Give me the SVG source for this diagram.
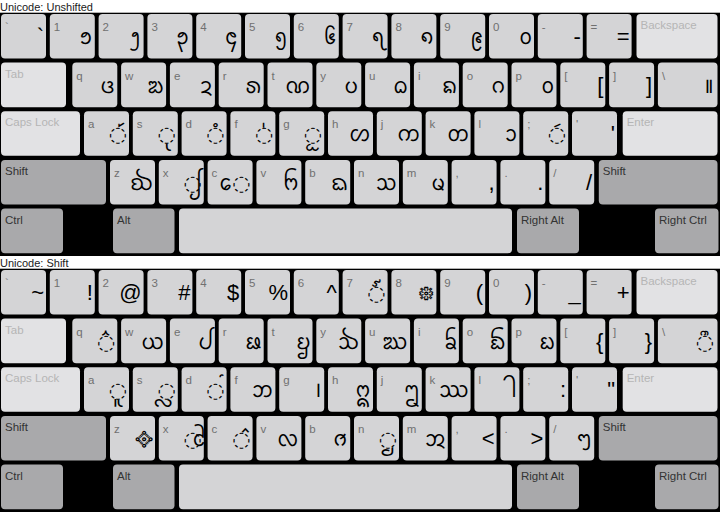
<svg xmlns="http://www.w3.org/2000/svg" width="720" height="512" viewBox="0 0 720 512">
<style>
.bg{fill:#000}
.k{fill:#d4d4d6;rx:4px}
.s{fill:#e2e2e4;rx:4px}
.m{fill:#a9a9ab;rx:4px}
text{font-family:"Liberation Sans",Arial,sans-serif}
.h{font-size:11px;fill:#1a1a1a}
.l{font-size:11.5px;fill:#707070}
.ls{font-size:11.5px;fill:#b5b5b5}
.lm{font-size:11.5px;fill:#333}
.g{font-size:22px;fill:#000;text-anchor:end}
.dc{font-size:21px;fill:#000;text-anchor:end;font-family:"DejaVu Sans",sans-serif}
.mk{font-size:22px;fill:#000;text-anchor:middle;font-family:"Noto Sans Tai Tham","Liberation Sans",sans-serif}
</style>
<g id="unshifted">
<text class="h" x="0" y="10.5">Unicode: Unshifted</text>
<rect class="bg" x="0" y="12.7" width="720" height="243.3"/>
<g id="u-grave"><rect class="k" x="1" y="14" width="45" height="44.6"/><text class="l" x="5" y="31">`</text><text class="g" x="44" y="44">`</text></g>
<g id="u-1"><rect class="k" x="49.8" y="14" width="45" height="44.6"/><text class="l" x="53.8" y="31">1</text><text class="g" x="92.8" y="44">&#x1A81;</text></g>
<g id="u-2"><rect class="k" x="98.6" y="14" width="45" height="44.6"/><text class="l" x="102.6" y="31">2</text><text class="g" x="141.6" y="44">&#x1A82;</text></g>
<g id="u-3"><rect class="k" x="147.4" y="14" width="45" height="44.6"/><text class="l" x="151.4" y="31">3</text><text class="g" x="190.4" y="44">&#x1A83;</text></g>
<g id="u-4"><rect class="k" x="196.2" y="14" width="45" height="44.6"/><text class="l" x="200.2" y="31">4</text><text class="g" x="239.2" y="44">&#x1A84;</text></g>
<g id="u-5"><rect class="k" x="245" y="14" width="45" height="44.6"/><text class="l" x="249" y="31">5</text><text class="g" x="288" y="44">&#x1A85;</text></g>
<g id="u-6"><rect class="k" x="293.8" y="14" width="45" height="44.6"/><text class="l" x="297.8" y="31">6</text><text class="g" x="336.8" y="44">&#x1A86;</text></g>
<g id="u-7"><rect class="k" x="342.6" y="14" width="45" height="44.6"/><text class="l" x="346.6" y="31">7</text><text class="g" x="385.6" y="44">&#x1A87;</text></g>
<g id="u-8"><rect class="k" x="391.4" y="14" width="45" height="44.6"/><text class="l" x="395.4" y="31">8</text><text class="g" x="434.4" y="44">&#x1A88;</text></g>
<g id="u-9"><rect class="k" x="440.2" y="14" width="45" height="44.6"/><text class="l" x="444.2" y="31">9</text><text class="g" x="483.2" y="44">&#x1A89;</text></g>
<g id="u-0"><rect class="k" x="489" y="14" width="45" height="44.6"/><text class="l" x="493" y="31">0</text><text class="g" x="532" y="44">&#x1A80;</text></g>
<g id="u-minus"><rect class="k" x="537.8" y="14" width="45" height="44.6"/><text class="l" x="541.8" y="31">-</text><text class="g" x="580.8" y="44">-</text></g>
<g id="u-equal"><rect class="k" x="586.6" y="14" width="45" height="44.6"/><text class="l" x="590.6" y="31">=</text><text class="g" x="629.6" y="44">=</text></g>
<g id="u-backspace"><rect class="s" x="636.5" y="14" width="81" height="44.6"/><text class="ls" x="640.5" y="29">Backspace</text></g>
<g id="u-tab"><rect class="s" x="1" y="62.6" width="65" height="44.6"/><text class="ls" x="5" y="77.6">Tab</text></g>
<g id="u-q"><rect class="k" x="72.3" y="62.6" width="45" height="44.6"/><text class="l" x="76.3" y="79.6">q</text><text class="g" x="115.3" y="92.6">&#x1A34;</text></g>
<g id="u-w"><rect class="k" x="121.1" y="62.6" width="45" height="44.6"/><text class="l" x="125.1" y="79.6">w</text><text class="g" x="164.1" y="92.6">&#x1A30;</text></g>
<g id="u-e"><rect class="k" x="169.9" y="62.6" width="45" height="44.6"/><text class="l" x="173.9" y="79.6">e</text><text class="g" x="212.9" y="92.6">&#x1A2F;</text></g>
<g id="u-r"><rect class="k" x="218.7" y="62.6" width="45" height="44.6"/><text class="l" x="222.7" y="79.6">r</text><text class="g" x="261.7" y="92.6">&#x1A41;</text></g>
<g id="u-t"><rect class="k" x="267.5" y="62.6" width="45" height="44.6"/><text class="l" x="271.5" y="79.6">t</text><text class="g" x="310.5" y="92.6">&#x1A31;</text></g>
<g id="u-y"><rect class="k" x="316.3" y="62.6" width="45" height="44.6"/><text class="l" x="320.3" y="79.6">y</text><text class="g" x="359.3" y="92.6">&#x1A37;</text></g>
<g id="u-u"><rect class="k" x="365.1" y="62.6" width="45" height="44.6"/><text class="l" x="369.1" y="79.6">u</text><text class="g" x="408.1" y="92.6">&#x1A35;</text></g>
<g id="u-i"><rect class="k" x="413.9" y="62.6" width="45" height="44.6"/><text class="l" x="417.9" y="79.6">i</text><text class="g" x="456.9" y="92.6">&#x1A26;</text></g>
<g id="u-o"><rect class="k" x="462.7" y="62.6" width="45" height="44.6"/><text class="l" x="466.7" y="79.6">o</text><text class="g" x="505.7" y="92.6">&#x1A23;</text></g>
<g id="u-p"><rect class="k" x="511.5" y="62.6" width="45" height="44.6"/><text class="l" x="515.5" y="79.6">p</text><text class="g" x="554.5" y="92.6">&#x1A45;</text></g>
<g id="u-lbracket"><rect class="k" x="560.3" y="62.6" width="45" height="44.6"/><text class="l" x="564.3" y="79.6">[</text><text class="g" x="603.3" y="92.6">[</text></g>
<g id="u-rbracket"><rect class="k" x="609.1" y="62.6" width="45" height="44.6"/><text class="l" x="613.1" y="79.6">]</text><text class="g" x="652.1" y="92.6">]</text></g>
<g id="u-backslash"><rect class="k" x="657.9" y="62.6" width="59.6" height="44.6"/><text class="l" x="661.9" y="79.6">\</text><text class="g" x="714" y="92.6">&#x1AA9;</text></g>
<g id="u-caps"><rect class="s" x="1" y="111.2" width="79" height="44.6"/><text class="ls" x="5" y="126.2">Caps Lock</text></g>
<g id="u-a"><rect class="k" x="84" y="111.2" width="45" height="44.6"/><text class="l" x="88" y="128.2">a</text><text class="dc" x="127" y="141.2">◌</text><text class="mk" x="120" y="141.2">&#xA0;&#x1A76;</text></g>
<g id="u-s"><rect class="k" x="132.8" y="111.2" width="45" height="44.6"/><text class="l" x="136.8" y="128.2">s</text><text class="dc" x="175.8" y="141.2">◌</text><text class="mk" x="168.8" y="141.2">&#xA0;&#x1A69;</text></g>
<g id="u-d"><rect class="k" x="181.6" y="111.2" width="45" height="44.6"/><text class="l" x="185.6" y="128.2">d</text><text class="dc" x="224.6" y="141.2">◌</text><text class="mk" x="217.6" y="141.2">&#xA0;&#x1A74;</text></g>
<g id="u-f"><rect class="k" x="230.4" y="111.2" width="45" height="44.6"/><text class="l" x="234.4" y="128.2">f</text><text class="dc" x="273.4" y="141.2">◌</text><text class="mk" x="266.4" y="141.2">&#xA0;&#x1A75;</text></g>
<g id="u-g"><rect class="k" x="279.2" y="111.2" width="45" height="44.6"/><text class="l" x="283.2" y="128.2">g</text><text class="dc" x="322.2" y="141.2">◌</text><text class="mk" x="315.2" y="141.2">&#xA0;&#x1A6C;</text></g>
<g id="u-h"><rect class="k" x="328" y="111.2" width="45" height="44.6"/><text class="l" x="332" y="128.2">h</text><text class="g" x="371" y="141.2">&#x1A49;</text></g>
<g id="u-j"><rect class="k" x="376.8" y="111.2" width="45" height="44.6"/><text class="l" x="380.8" y="128.2">j</text><text class="g" x="419.8" y="141.2">&#x1A20;</text></g>
<g id="u-k"><rect class="k" x="425.6" y="111.2" width="45" height="44.6"/><text class="l" x="429.6" y="128.2">k</text><text class="g" x="468.6" y="141.2">&#x1A32;</text></g>
<g id="u-l"><rect class="k" x="474.4" y="111.2" width="45" height="44.6"/><text class="l" x="478.4" y="128.2">l</text><text class="g" x="517.4" y="141.2">&#x1A63;</text></g>
<g id="u-semicolon"><rect class="k" x="523.2" y="111.2" width="45" height="44.6"/><text class="l" x="527.2" y="128.2">;</text><text class="dc" x="566.2" y="141.2">◌</text><text class="mk" x="559.2" y="141.2">&#xA0;&#x1A62;</text></g>
<g id="u-quote"><rect class="k" x="572" y="111.2" width="45" height="44.6"/><text class="l" x="576" y="128.2">'</text><text class="g" x="615" y="141.2">'</text></g>
<g id="u-enter"><rect class="s" x="622.7" y="111.2" width="94.8" height="44.6"/><text class="ls" x="626.7" y="126.2">Enter</text></g>
<g id="u-lshift"><rect class="m" x="1" y="159.9" width="105" height="44.6"/><text class="lm" x="5" y="174.9">Shift</text></g>
<g id="u-z"><rect class="k" x="110" y="159.9" width="45" height="44.6"/><text class="l" x="114" y="176.9">z</text><text class="g" x="153" y="189.9">&#x1A2B;</text></g>
<g id="u-x"><rect class="k" x="158.8" y="159.9" width="45" height="44.6"/><text class="l" x="162.8" y="176.9">x</text><text class="dc" x="201.8" y="189.9">◌</text><text class="mk" x="194.8" y="189.9">&#xA0;&#x1A6D;</text></g>
<g id="u-c"><rect class="k" x="207.6" y="159.9" width="45" height="44.6"/><text class="l" x="211.6" y="176.9">c</text><text class="g" x="232" y="189.9">&#x1A6E;</text><text class="dc" x="250.6" y="189.9">◌</text></g>
<g id="u-v"><rect class="k" x="256.4" y="159.9" width="45" height="44.6"/><text class="l" x="260.4" y="176.9">v</text><text class="g" x="299.4" y="189.9">&#x1A3C;</text></g>
<g id="u-b"><rect class="k" x="305.2" y="159.9" width="45" height="44.6"/><text class="l" x="309.2" y="176.9">b</text><text class="g" x="348.2" y="189.9">&#x1A33;</text></g>
<g id="u-n"><rect class="k" x="354" y="159.9" width="45" height="44.6"/><text class="l" x="358" y="176.9">n</text><text class="g" x="397" y="189.9">&#x1A48;</text></g>
<g id="u-m"><rect class="k" x="402.8" y="159.9" width="45" height="44.6"/><text class="l" x="406.8" y="176.9">m</text><text class="g" x="445.8" y="189.9">&#x1A3E;</text></g>
<g id="u-comma"><rect class="k" x="451.6" y="159.9" width="45" height="44.6"/><text class="l" x="455.6" y="176.9">,</text><text class="g" x="494.6" y="189.9">,</text></g>
<g id="u-period"><rect class="k" x="500.4" y="159.9" width="45" height="44.6"/><text class="l" x="504.4" y="176.9">.</text><text class="g" x="543.4" y="189.9">.</text></g>
<g id="u-slash"><rect class="k" x="549.2" y="159.9" width="45" height="44.6"/><text class="l" x="553.2" y="176.9">/</text><text class="g" x="592.2" y="189.9">/</text></g>
<g id="u-rshift"><rect class="m" x="598.8" y="159.9" width="118.7" height="44.6"/><text class="lm" x="602.8" y="174.9">Shift</text></g>
<g id="u-ctrl"><rect class="m" x="1" y="208.6" width="62" height="44.6"/><text class="lm" x="5" y="223.6">Ctrl</text></g>
<g id="u-alt"><rect class="m" x="113" y="208.6" width="61.5" height="44.6"/><text class="lm" x="117" y="223.6">Alt</text></g>
<g id="u-space"><rect class="k" x="179" y="208.6" width="333" height="44.6"/></g>
<g id="u-ralt"><rect class="m" x="517" y="208.6" width="62" height="44.6"/><text class="lm" x="521" y="223.6">Right Alt</text></g>
<g id="u-rctrl"><rect class="m" x="655" y="208.6" width="63.5" height="44.6"/><text class="lm" x="659" y="223.6">Right Ctrl</text></g>
</g>
<g id="shifted" transform="translate(0,256)">
<text class="h" x="0" y="10.5">Unicode: Shift</text>
<rect class="bg" x="0" y="12.7" width="720" height="243.3"/>
<g id="s-grave"><rect class="k" x="1" y="14" width="45" height="44.6"/><text class="l" x="5" y="31">`</text><text class="g" x="44" y="44">~</text></g>
<g id="s-1"><rect class="k" x="49.8" y="14" width="45" height="44.6"/><text class="l" x="53.8" y="31">1</text><text class="g" x="92.8" y="44">!</text></g>
<g id="s-2"><rect class="k" x="98.6" y="14" width="45" height="44.6"/><text class="l" x="102.6" y="31">2</text><text class="g" x="141.6" y="44">@</text></g>
<g id="s-3"><rect class="k" x="147.4" y="14" width="45" height="44.6"/><text class="l" x="151.4" y="31">3</text><text class="g" x="190.4" y="44">#</text></g>
<g id="s-4"><rect class="k" x="196.2" y="14" width="45" height="44.6"/><text class="l" x="200.2" y="31">4</text><text class="g" x="239.2" y="44">$</text></g>
<g id="s-5"><rect class="k" x="245" y="14" width="45" height="44.6"/><text class="l" x="249" y="31">5</text><text class="g" x="288" y="44">%</text></g>
<g id="s-6"><rect class="k" x="293.8" y="14" width="45" height="44.6"/><text class="l" x="297.8" y="31">6</text><text class="g" x="336.8" y="44">^</text></g>
<g id="s-7"><rect class="k" x="342.6" y="14" width="45" height="44.6"/><text class="l" x="346.6" y="31">7</text><text class="dc" x="385.6" y="44">◌</text><text class="mk" x="378.6" y="44">&#xA0;&#x1A7C;</text></g>
<g id="s-8"><rect class="k" x="391.4" y="14" width="45" height="44.6"/><text class="l" x="395.4" y="31">8</text><text class="g" x="434.4" y="44">&#x1AA5;</text></g>
<g id="s-9"><rect class="k" x="440.2" y="14" width="45" height="44.6"/><text class="l" x="444.2" y="31">9</text><text class="g" x="483.2" y="44">(</text></g>
<g id="s-0"><rect class="k" x="489" y="14" width="45" height="44.6"/><text class="l" x="493" y="31">0</text><text class="g" x="532" y="44">)</text></g>
<g id="s-minus"><rect class="k" x="537.8" y="14" width="45" height="44.6"/><text class="l" x="541.8" y="31">-</text><text class="g" x="580.8" y="44">_</text></g>
<g id="s-equal"><rect class="k" x="586.6" y="14" width="45" height="44.6"/><text class="l" x="590.6" y="31">=</text><text class="g" x="629.6" y="44">+</text></g>
<g id="s-backspace"><rect class="s" x="636.5" y="14" width="81" height="44.6"/><text class="ls" x="640.5" y="29">Backspace</text></g>
<g id="s-tab"><rect class="s" x="1" y="62.6" width="65" height="44.6"/><text class="ls" x="5" y="77.6">Tab</text></g>
<g id="s-q"><rect class="k" x="72.3" y="62.6" width="45" height="44.6"/><text class="l" x="76.3" y="79.6">q</text><text class="dc" x="115.3" y="92.6">◌</text><text class="mk" x="108.3" y="92.6">&#xA0;&#x1A73;</text></g>
<g id="s-w"><rect class="k" x="121.1" y="62.6" width="45" height="44.6"/><text class="l" x="125.1" y="79.6">w</text><text class="g" x="164.1" y="92.6">&#x1A3F;</text></g>
<g id="s-e"><rect class="k" x="169.9" y="62.6" width="45" height="44.6"/><text class="l" x="173.9" y="79.6">e</text><text class="g" x="212.9" y="92.6">&#x1A38;</text></g>
<g id="s-r"><rect class="k" x="218.7" y="62.6" width="45" height="44.6"/><text class="l" x="222.7" y="79.6">r</text><text class="g" x="261.7" y="92.6">&#x1A39;</text></g>
<g id="s-t"><rect class="k" x="267.5" y="62.6" width="45" height="44.6"/><text class="l" x="271.5" y="79.6">t</text><text class="g" x="310.5" y="92.6">&#x1A2E;</text></g>
<g id="s-y"><rect class="k" x="316.3" y="62.6" width="45" height="44.6"/><text class="l" x="320.3" y="79.6">y</text><text class="g" x="359.3" y="92.6">&#x1A28;</text></g>
<g id="s-u"><rect class="k" x="365.1" y="62.6" width="45" height="44.6"/><text class="l" x="369.1" y="79.6">u</text><text class="g" x="408.1" y="92.6">&#x1A25;</text></g>
<g id="s-i"><rect class="k" x="413.9" y="62.6" width="45" height="44.6"/><text class="l" x="417.9" y="79.6">i</text><text class="g" x="456.9" y="92.6">&#x1A22;</text></g>
<g id="s-o"><rect class="k" x="462.7" y="62.6" width="45" height="44.6"/><text class="l" x="466.7" y="79.6">o</text><text class="g" x="505.7" y="92.6">&#x1A3A;</text></g>
<g id="s-p"><rect class="k" x="511.5" y="62.6" width="45" height="44.6"/><text class="l" x="515.5" y="79.6">p</text><text class="g" x="554.5" y="92.6">&#x1A2D;</text></g>
<g id="s-lbracket"><rect class="k" x="560.3" y="62.6" width="45" height="44.6"/><text class="l" x="564.3" y="79.6">[</text><text class="g" x="603.3" y="92.6">{</text></g>
<g id="s-rbracket"><rect class="k" x="609.1" y="62.6" width="45" height="44.6"/><text class="l" x="613.1" y="79.6">]</text><text class="g" x="652.1" y="92.6">}</text></g>
<g id="s-backslash"><rect class="k" x="657.9" y="62.6" width="59.6" height="44.6"/><text class="l" x="661.9" y="79.6">\</text><text class="dc" x="714" y="92.6">◌</text><text class="mk" x="707" y="92.6">&#xA0;&#x1A68;</text></g>
<g id="s-caps"><rect class="s" x="1" y="111.2" width="79" height="44.6"/><text class="ls" x="5" y="126.2">Caps Lock</text></g>
<g id="s-a"><rect class="k" x="84" y="111.2" width="45" height="44.6"/><text class="l" x="88" y="128.2">a</text><text class="dc" x="127" y="141.2">◌</text><text class="mk" x="120" y="141.2">&#xA0;&#x1A6A;</text></g>
<g id="s-s"><rect class="k" x="132.8" y="111.2" width="45" height="44.6"/><text class="l" x="136.8" y="128.2">s</text><text class="dc" x="175.8" y="141.2">◌</text><text class="mk" x="168.8" y="141.2">&#xA0;&#x1A56;</text></g>
<g id="s-d"><rect class="k" x="181.6" y="111.2" width="45" height="44.6"/><text class="l" x="185.6" y="128.2">d</text><text class="dc" x="224.6" y="141.2">◌</text><text class="mk" x="217.6" y="141.2">&#xA0;&#x1A7B;</text></g>
<g id="s-f"><rect class="k" x="230.4" y="111.2" width="45" height="44.6"/><text class="l" x="234.4" y="128.2">f</text><text class="g" x="273.4" y="141.2">&#x1A3D;</text></g>
<g id="s-g"><rect class="k" x="279.2" y="111.2" width="45" height="44.6"/><text class="l" x="283.2" y="128.2">g</text><text class="g" x="322.2" y="141.2">&#x1AA8;</text></g>
<g id="s-h"><rect class="k" x="328" y="111.2" width="45" height="44.6"/><text class="l" x="332" y="128.2">h</text><text class="g" x="371" y="141.2">&#x1A4D;</text></g>
<g id="s-j"><rect class="k" x="376.8" y="111.2" width="45" height="44.6"/><text class="l" x="380.8" y="128.2">j</text><text class="g" x="419.8" y="141.2">&#x1A42;</text></g>
<g id="s-k"><rect class="k" x="425.6" y="111.2" width="45" height="44.6"/><text class="l" x="429.6" y="128.2">k</text><text class="g" x="468.6" y="141.2">&#x1A54;</text></g>
<g id="s-l"><rect class="k" x="474.4" y="111.2" width="45" height="44.6"/><text class="l" x="478.4" y="128.2">l</text><text class="g" x="517.4" y="141.2">&#x1A64;</text></g>
<g id="s-semicolon"><rect class="k" x="523.2" y="111.2" width="45" height="44.6"/><text class="l" x="527.2" y="128.2">;</text><text class="g" x="566.2" y="141.2">:</text></g>
<g id="s-quote"><rect class="k" x="572" y="111.2" width="45" height="44.6"/><text class="l" x="576" y="128.2">'</text><text class="g" x="615" y="141.2">"</text></g>
<g id="s-enter"><rect class="s" x="622.7" y="111.2" width="94.8" height="44.6"/><text class="ls" x="626.7" y="126.2">Enter</text></g>
<g id="s-lshift"><rect class="m" x="1" y="159.9" width="105" height="44.6"/><text class="lm" x="5" y="174.9">Shift</text></g>
<g id="s-z"><rect class="k" x="110" y="159.9" width="45" height="44.6"/><text class="l" x="114" y="176.9">z</text><text class="g" x="153" y="189.9">&#x1AA3;</text></g>
<g id="s-x"><rect class="k" x="158.8" y="159.9" width="45" height="44.6"/><text class="l" x="162.8" y="176.9">x</text><text class="dc" x="201.8" y="189.9">◌</text><text class="mk" x="194.8" y="189.9">&#xA0;&#x1A72;</text></g>
<g id="s-c"><rect class="k" x="207.6" y="159.9" width="45" height="44.6"/><text class="l" x="211.6" y="176.9">c</text><text class="dc" x="250.6" y="189.9">◌</text><text class="mk" x="243.6" y="189.9">&#xA0;&#x1A77;</text></g>
<g id="s-v"><rect class="k" x="256.4" y="159.9" width="45" height="44.6"/><text class="l" x="260.4" y="176.9">v</text><text class="g" x="299.4" y="189.9">&#x1A43;</text></g>
<g id="s-b"><rect class="k" x="305.2" y="159.9" width="45" height="44.6"/><text class="l" x="309.2" y="176.9">b</text><text class="g" x="348.2" y="189.9">&#x1A46;</text></g>
<g id="s-n"><rect class="k" x="354" y="159.9" width="45" height="44.6"/><text class="l" x="358" y="176.9">n</text><text class="dc" x="397" y="189.9">◌</text><text class="mk" x="390" y="189.9">&#xA0;&#x1A5B;</text></g>
<g id="s-m"><rect class="k" x="402.8" y="159.9" width="45" height="44.6"/><text class="l" x="406.8" y="176.9">m</text><text class="g" x="445.8" y="189.9">&#x1A4B;</text></g>
<g id="s-comma"><rect class="k" x="451.6" y="159.9" width="45" height="44.6"/><text class="l" x="455.6" y="176.9">,</text><text class="g" x="494.6" y="189.9">&lt;</text></g>
<g id="s-period"><rect class="k" x="500.4" y="159.9" width="45" height="44.6"/><text class="l" x="504.4" y="176.9">.</text><text class="g" x="543.4" y="189.9">&gt;</text></g>
<g id="s-slash"><rect class="k" x="549.2" y="159.9" width="45" height="44.6"/><text class="l" x="553.2" y="176.9">/</text><text class="g" x="592.2" y="189.9">&#x1AA7;</text></g>
<g id="s-rshift"><rect class="m" x="598.8" y="159.9" width="118.7" height="44.6"/><text class="lm" x="602.8" y="174.9">Shift</text></g>
<g id="s-ctrl"><rect class="m" x="1" y="208.6" width="62" height="44.6"/><text class="lm" x="5" y="223.6">Ctrl</text></g>
<g id="s-alt"><rect class="m" x="113" y="208.6" width="61.5" height="44.6"/><text class="lm" x="117" y="223.6">Alt</text></g>
<g id="s-space"><rect class="k" x="179" y="208.6" width="333" height="44.6"/></g>
<g id="s-ralt"><rect class="m" x="517" y="208.6" width="62" height="44.6"/><text class="lm" x="521" y="223.6">Right Alt</text></g>
<g id="s-rctrl"><rect class="m" x="655" y="208.6" width="63.5" height="44.6"/><text class="lm" x="659" y="223.6">Right Ctrl</text></g>
</g>
<g id="connectors"/>
</svg>
